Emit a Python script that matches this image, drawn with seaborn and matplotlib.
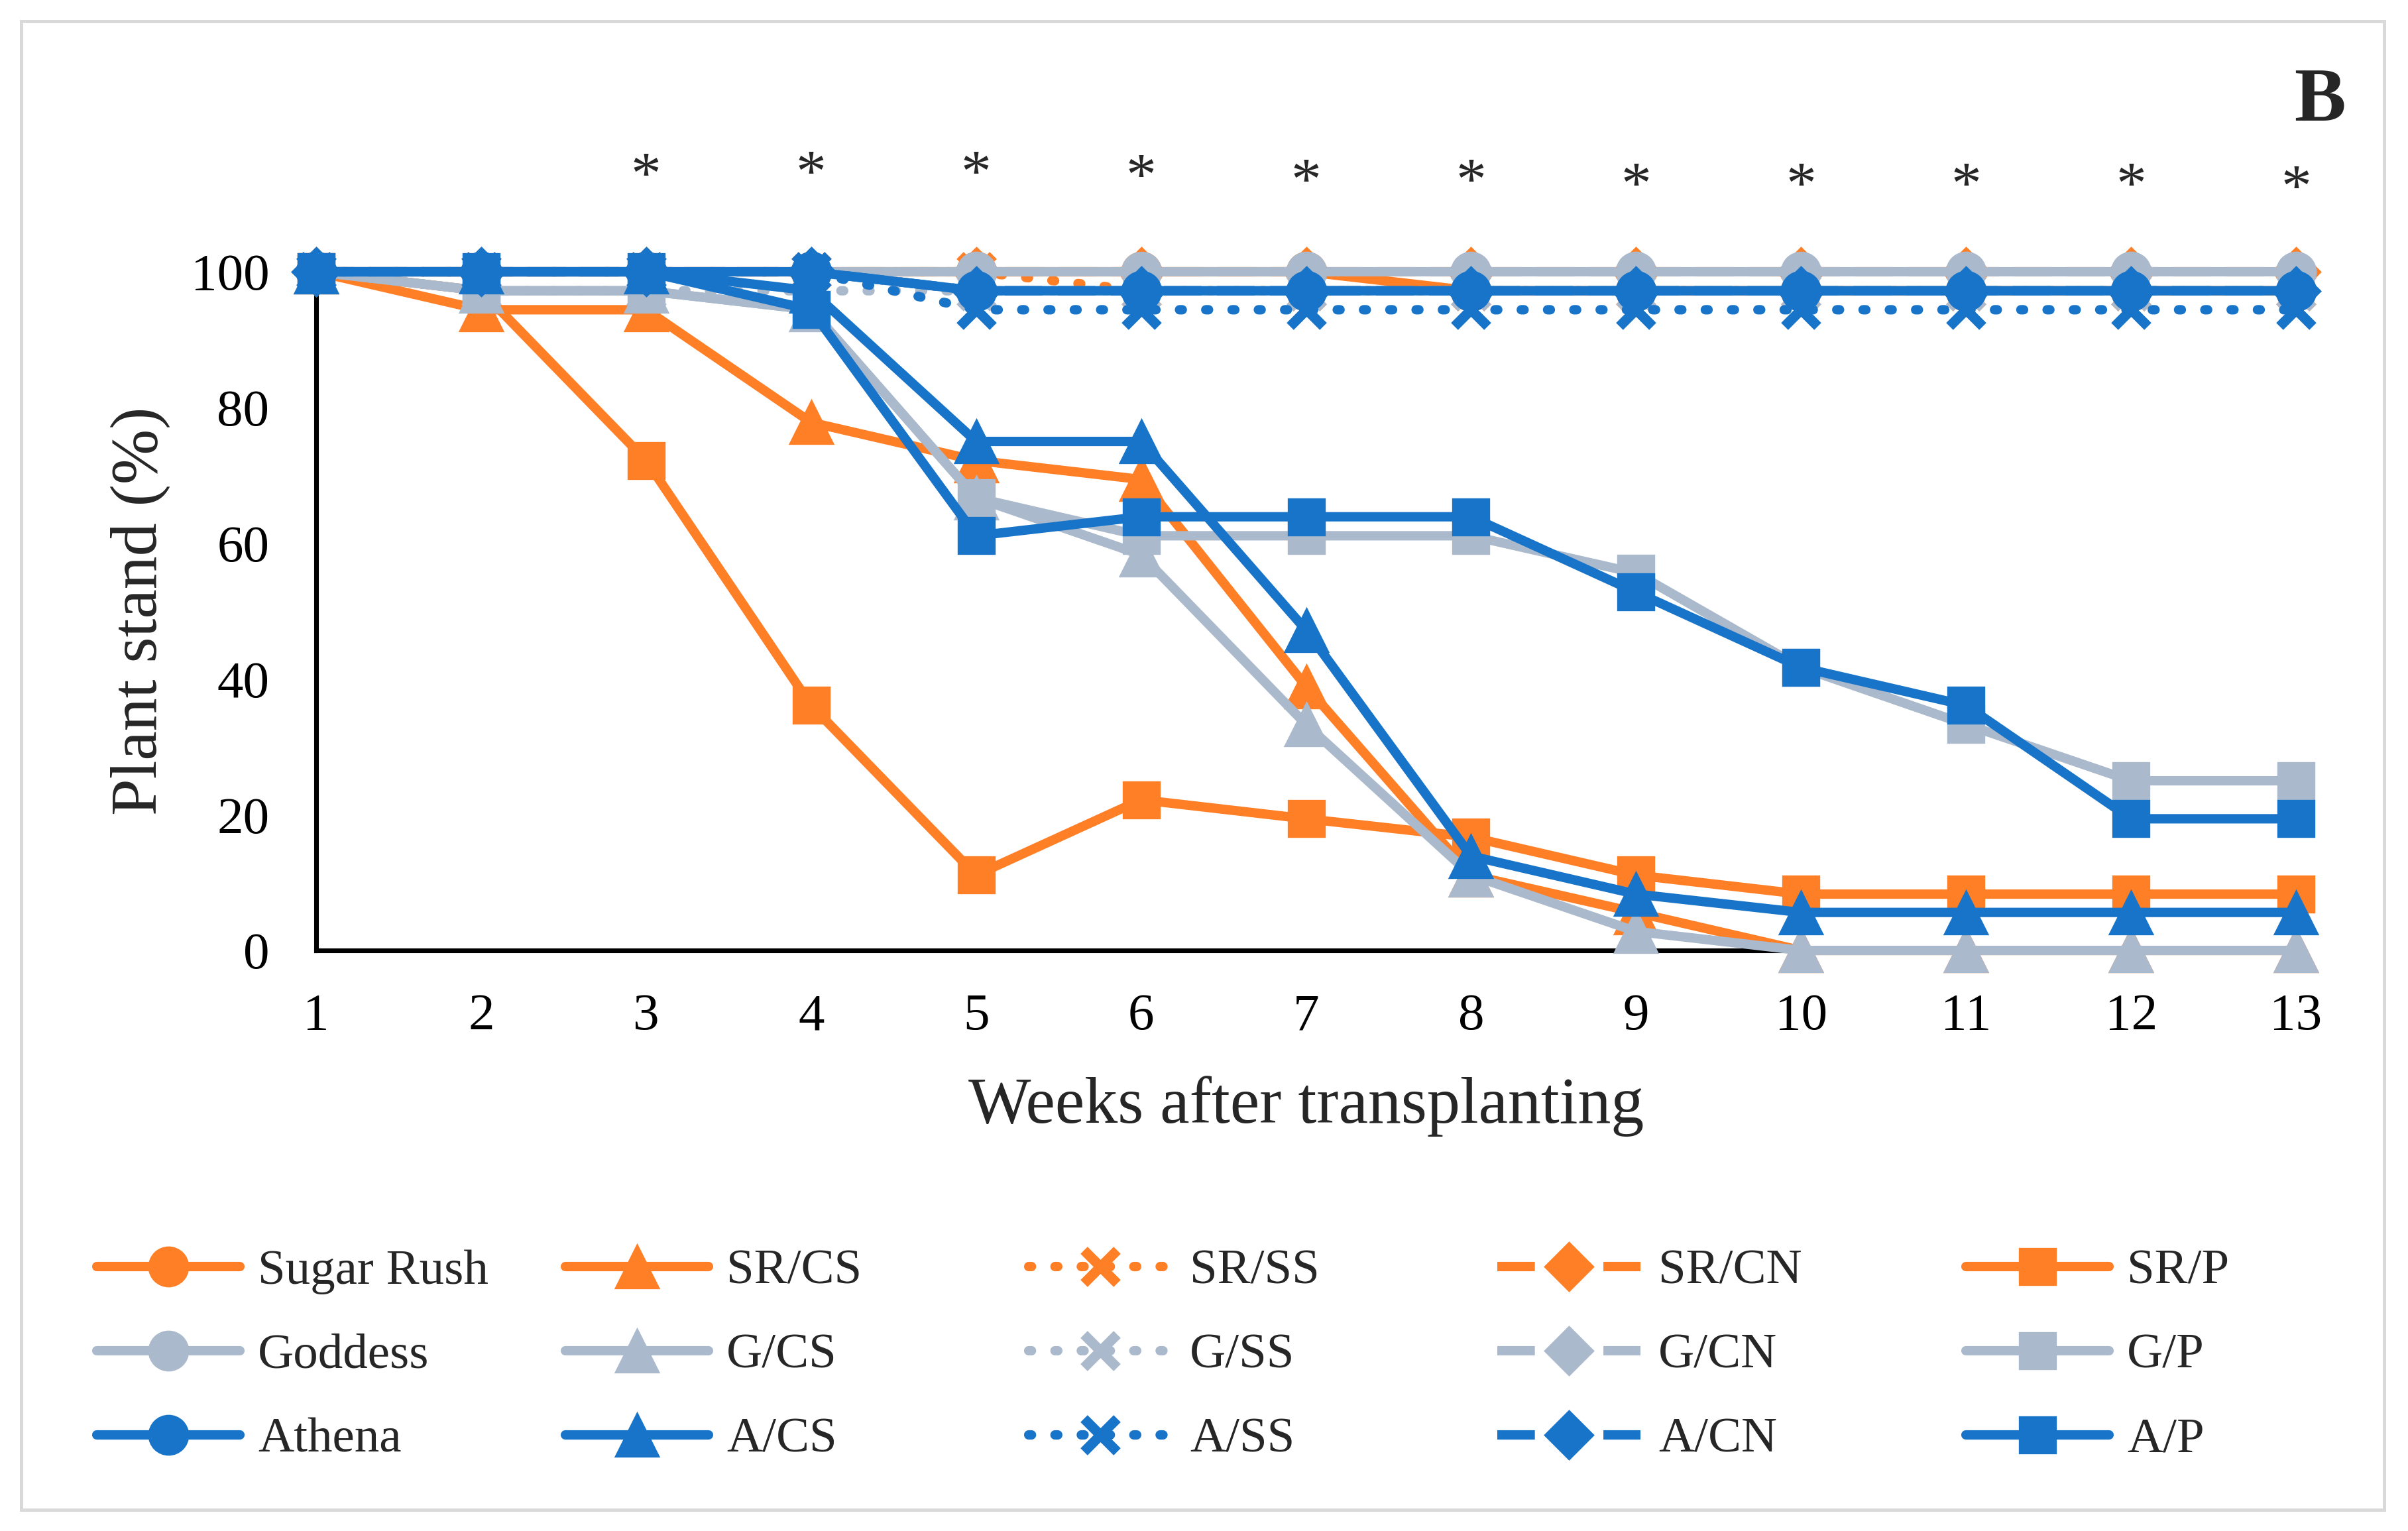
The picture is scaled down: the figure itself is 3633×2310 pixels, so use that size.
import matplotlib
matplotlib.use("Agg")
import matplotlib.pyplot as plt
import seaborn as sns
from matplotlib.patches import Rectangle

# plant stand (%) per week
weeks = [1, 2, 3, 4, 5, 6, 7, 8, 9, 10, 11, 12, 13]

sugar_rush = [100, 100, 100, 100, 100, 100, 100, 97.2, 97.2, 97.2, 97.2, 97.2, 97.2]
sr_cs = [100, 94.4, 94.4, 77.8, 72.2, 69.4, 38.9, 11.1, 5.6, 0, 0, 0, 0]
sr_ss = [100, 100, 100, 100, 100, 97.2, 97.2, 97.2, 97.2, 97.2, 97.2, 97.2, 97.2]
sr_cn = [100, 100, 100, 100, 100, 100, 100, 100, 100, 100, 100, 100, 100]
sr_p = [100, 97.2, 72.2, 36.1, 11.1, 22.2, 19.4, 16.7, 11.1, 8.3, 8.3, 8.3, 8.3]

goddess = [100, 100, 100, 100, 100, 100, 100, 100, 100, 100, 100, 100, 100]
g_cs = [100, 97.2, 97.2, 94.4, 66.7, 58.3, 33.3, 11.1, 2.8, 0, 0, 0, 0]
g_ss = [100, 97.2, 97.2, 97.2, 97.2, 97.2, 97.2, 97.2, 97.2, 97.2, 97.2, 97.2, 97.2]
g_cn = [100, 100, 100, 100, 97.2, 97.2, 97.2, 97.2, 97.2, 97.2, 97.2, 97.2, 97.2]
g_p = [100, 97.2, 97.2, 94.4, 66.7, 61.1, 61.1, 61.1, 55.6, 41.7, 33.3, 25, 25]

athena = [100, 100, 100, 100, 97.2, 97.2, 97.2, 97.2, 97.2, 97.2, 97.2, 97.2, 97.2]
a_cs = [100, 100, 100, 97.2, 75, 75, 47.2, 13.9, 8.3, 5.6, 5.6, 5.6, 5.6]
a_ss = [100, 100, 100, 100, 94.4, 94.4, 94.4, 94.4, 94.4, 94.4, 94.4, 94.4, 94.4]
a_cn = [100, 100, 100, 100, 97.2, 97.2, 97.2, 97.2, 97.2, 97.2, 97.2, 97.2, 97.2]
a_p = [100, 100, 100, 94.4, 61.1, 63.9, 63.9, 63.9, 52.8, 41.7, 36.1, 19.4, 19.4]

star_weeks = [3, 4, 5, 6, 7, 8, 9, 10, 11, 12, 13]
star_y = [113.7, 114.0, 114.0, 113.5, 112.8, 112.8, 112.2, 112.2, 112.2, 112.2, 111.8]

orange = '#FF7F27'
grey = '#AAB9CB'
blue = '#1874C8'

series = [
    ('Sugar Rush', sugar_rush, orange, 'base'),
    ('SR/CS', sr_cs, orange, 'CS'),
    ('SR/SS', sr_ss, orange, 'SS'),
    ('SR/CN', sr_cn, orange, 'CN'),
    ('SR/P', sr_p, orange, 'P'),
    ('Goddess', goddess, grey, 'base'),
    ('G/CS', g_cs, grey, 'CS'),
    ('G/SS', g_ss, grey, 'SS'),
    ('G/CN', g_cn, grey, 'CN'),
    ('G/P', g_p, grey, 'P'),
    ('Athena', athena, blue, 'base'),
    ('A/CS', a_cs, blue, 'CS'),
    ('A/SS', a_ss, blue, 'SS'),
    ('A/CN', a_cn, blue, 'CN'),
    ('A/P', a_p, blue, 'P'),
]

lw = 3.4
styles = {
    'base': dict(marker='o', markersize=14, linestyle='-', markeredgewidth=0.8),
    'CS': dict(marker='^', markersize=15.5, linestyle='-', markeredgewidth=0.8),
    'SS': dict(marker='x', markersize=12, linestyle=(0, (0.3, 2.5)),
               markeredgewidth=3.6, dash_capstyle='round'),
    'CN': dict(marker='D', markersize=12.3, linestyle=(0, (4.0, 1.65)),
               markeredgewidth=0.8, dash_capstyle='butt'),
    'P': dict(marker='s', markersize=12.8, linestyle='-', markeredgewidth=0.8),
}

sns.set_style('white')
plt.rcParams['font.family'] = ['Liberation Serif', 'DejaVu Serif']

fig = plt.figure(figsize=(12.11, 7.70), dpi=300)
ax = fig.add_axes([0.1313, 0.3792, 0.9535 - 0.1313, 0.8225 - 0.3792])

handles = {}
for name, vals, color, kind in series:
    sns.lineplot(x=weeks, y=vals, ax=ax, color=color, linewidth=lw,
                 markeredgecolor=color, errorbar=None, legend=False,
                 label=name, clip_on=False, zorder=3, **styles[kind])
    handles[name] = ax.lines[-1]

ax.set_xlim(1, 13)
ax.set_ylim(0, 100)
ax.set_xticks(weeks)
ax.set_yticks([0, 20, 40, 60, 80, 100])
for s in ['top', 'right']:
    ax.spines[s].set_visible(False)
for s in ['left', 'bottom']:
    ax.spines[s].set_color('black')
    ax.spines[s].set_linewidth(1.7)
ax.tick_params(axis='both', direction='out', length=6, width=1.7,
               colors='black', labelsize=19)
ax.tick_params(axis='x', pad=9.5)
ax.tick_params(axis='y', pad=11)
ax.grid(False)

ax.set_xlabel('Weeks after transplanting', fontsize=24)
ax.set_ylabel('Plant stand (%)', fontsize=24)
ax.xaxis.set_label_coords(0.5, -0.185)
ax.yaxis.set_label_coords(-0.0737, 0.5)

for w, y in zip(star_weeks, star_y):
    ax.text(w, y, '*', ha='center', va='center', fontsize=22, clip_on=False)

fig.text(0.9634, 0.9212, 'B', ha='center', va='baseline', fontsize=28,
         fontweight='bold')

# one legend per treatment column
col_x = [0.0402, 0.2348, 0.4272, 0.6218, 0.8164]
cols = [
    ['Sugar Rush', 'Goddess', 'Athena'],
    ['SR/CS', 'G/CS', 'A/CS'],
    ['SR/SS', 'G/SS', 'A/SS'],
    ['SR/CN', 'G/CN', 'A/CN'],
    ['SR/P', 'G/P', 'A/P'],
]
for x0, names in zip(col_x, cols):
    fig.legend([handles[n] for n in names], names, loc='upper left',
               bbox_to_anchor=(x0, 0.1843), frameon=False, fontsize=18,
               handlelength=2.88, handletextpad=0.36, labelspacing=0.78,
               borderpad=0, borderaxespad=0, numpoints=1)

fig.patches.append(Rectangle((0.0089, 0.0139), 0.990 - 0.0089, 0.986 - 0.0139,
                             transform=fig.transFigure, fill=False,
                             edgecolor='#D9D9D9', linewidth=1.2))

fig.savefig('out.png', dpi=300)
